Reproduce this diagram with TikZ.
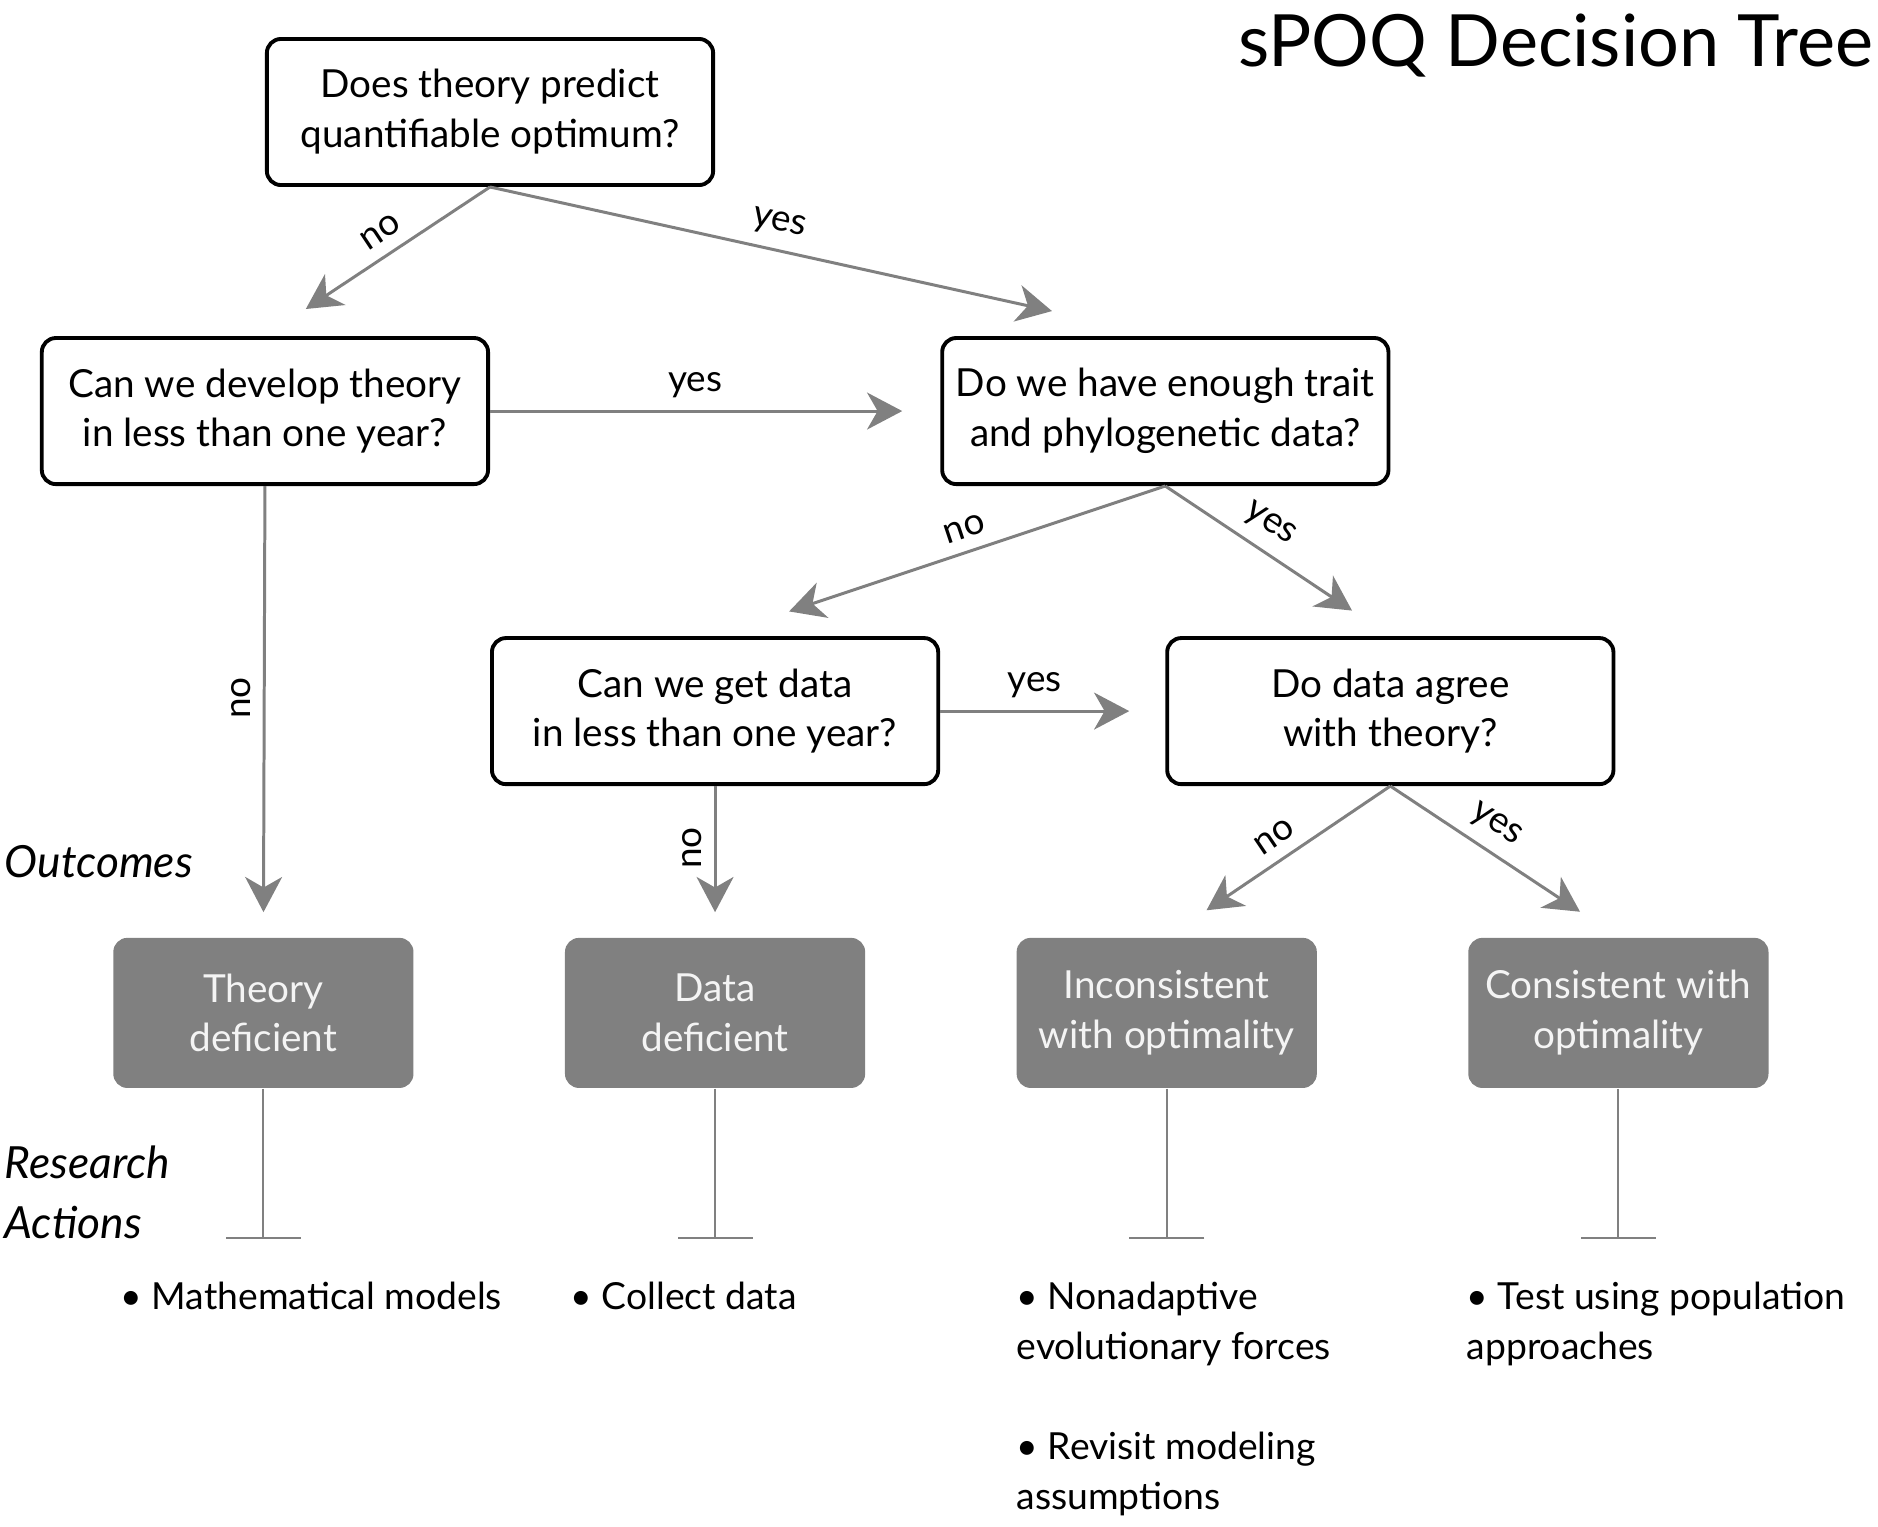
\documentclass[tikz,border=0pt]{standalone}
\usepackage{fontspec}
\setmainfont{Lato}
\usetikzlibrary{shapes,arrows.meta,positioning}
\definecolor{linegray}{HTML}{808080}
\definecolor{boxgray}{HTML}{808080}
\definecolor{paletext}{HTML}{F4F4F4}
\tikzstyle{ques}=[rectangle,draw,line width=1.1pt,rounded corners=4pt,align=center,minimum width=4.46cm,minimum height=1.46cm,font=\fontsize{11}{14.2}\selectfont]
\tikzstyle{outc}=[rectangle,fill=boxgray,rounded corners=4pt,align=center,text=paletext,minimum width=3cm,minimum height=1.5cm,font=\fontsize{11}{14.2}\selectfont]
\tikzstyle{act}=[align=left,anchor=north west,inner sep=0pt,font=\fontsize{10.6}{14.2}\selectfont]
\tikzstyle{side}=[align=left,anchor=west,inner sep=0pt,font=\fontsize{12.6}{17}\selectfont\itshape]
\tikzstyle{arr}=[-{Stealth[length=10pt,width=10.5pt,inset=3pt]},draw=linegray,fill=linegray,line width=0.85pt]
\tikzstyle{lab}=[sloped,above,font=\fontsize{10.5}{13}\selectfont,text=black]
\tikzstyle{vlab}=[rotate=90,anchor=south,font=\fontsize{10.5}{13}\selectfont,text=black]
\tikzstyle{bar}=[-{Bar[width=0.75cm]},draw=linegray,line width=0.6pt]

\begin{document}
\begin{tikzpicture}[x=0.01cm,y=-0.01cm]
\useasboundingbox (0,0) rectangle (1878,1526);
% questions
\node (q1) [ques] at (490,112) {Does theory predict\\quantifiable optimum?};
\node (q2) [ques, below left=1.49cm and 0cm of q1.south] {Can we develop theory\\in less than one year?};
\node (q3) [ques, right=4.5cm of q2] {Do we have enough trait\\and phylogenetic data?};
\node (q4) [ques, below right=1.5cm and 0cm of q2.south east] {Can we get data\\in less than one year?};
\node (q5) [ques, right=2.25cm of q4] {Do data agree\\with theory?};
% outcomes
\node (o2) [outc, below=1.51cm of q4] {Data\\deficient};
\node (o1) [outc, left=1.5cm of o2] {Theory\\deficient};
\node (o3) [outc, right=1.5cm of o2] {Inconsistent\\with optimality};
\node (o4) [outc, right=1.5cm of o3] {Consistent with\\optimality};
% side labels and title
\node (outlab) [side] at (4,862) {Outcomes};
\node (actlab) [side] at (4,1192) {Research\\Actions};
\node (title) [anchor=base east, inner sep=0pt, font=\fontsize{20.5}{24}\selectfont] at (1874,66) {sPOQ Decision Tree};
% decisions
\draw [arr, shorten >=0.49cm] (q1.south) -- node [lab, pos=0.43] {no} (q2.north);
\draw [arr, shorten >=1.16cm] (q1.south) -- node [lab, pos=0.42] {yes} (q3.north);
\draw [arr, shorten >=0.38cm] (q2.east) -- node [lab, pos=0.456] {yes} (q3.west);
\draw [arr, shorten >=0.25cm] (q2.south) -- node [vlab, pos=0.47] {no} (o1.north);
\draw [arr, shorten >=0.78cm] (q3.south) -- node [lab, pos=0.43] {no} (q4.north);
\draw [arr, shorten >=0.46cm] (q3.south) -- node [lab, pos=0.4] {yes} (q5.north);
\draw [arr, shorten >=0.36cm] (q4.east) -- node [lab, pos=0.42] {yes} (q5.west);
\draw [arr, shorten >=0.25cm] (q4.south) -- node [vlab, pos=0.41] {no} (o2.north);
\draw [arr, shorten >=0.48cm] (q5.south) -- node [lab, pos=0.46] {no} (o3.north);
\draw [arr, shorten >=0.46cm] (q5.south) -- node [lab, pos=0.4] {yes} (o4.north);
% research actions
\foreach \i in {1,2,3,4} {
  \coordinate [below=1.5cm of o\i.south] (e\i);
  \draw [bar] (o\i) -- (e\i);
}
\node (t1) [act] at (120,1281) {• Mathematical models};
\node (t2) [act] at (570,1281) {• Collect data};
\node (t3) [act] at (1016,1281) {• Nonadaptive\\evolutionary forces};
\node (t4) [act] at (1016,1431) {• Revisit modeling\\assumptions};
\node (t5) [act] at (1466,1281) {• Test using population\\approaches};
\end{tikzpicture}
\end{document}
